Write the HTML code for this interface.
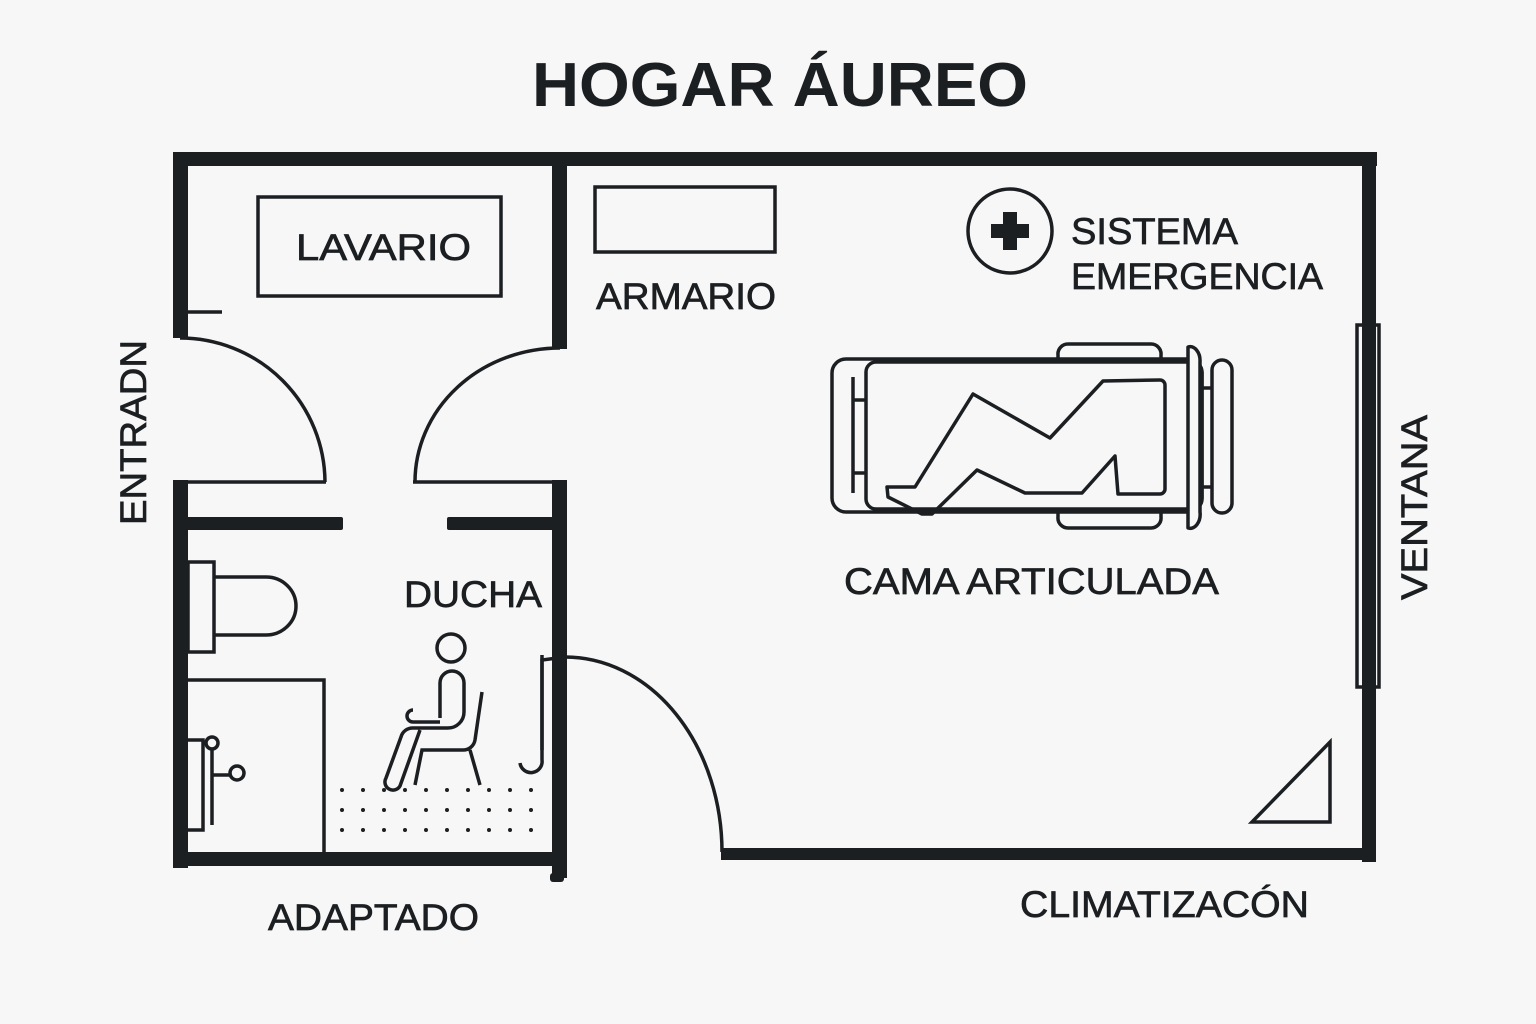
<!DOCTYPE html>
<html><head><meta charset="utf-8"><style>
html,body{margin:0;padding:0;background:#f7f7f7;}
svg{display:block;}
text{font-family:"Liberation Sans",sans-serif;fill:#1c1f22;}
</style></head><body>
<svg width="1536" height="1024" viewBox="0 0 1536 1024" xmlns="http://www.w3.org/2000/svg">
<rect width="1536" height="1024" fill="#f7f7f7"/>
<text x="532" y="106" font-size="62" font-weight="bold" textLength="496" lengthAdjust="spacingAndGlyphs">HOGAR ÁUREO</text>
<g fill="#1c1f22">
<rect x="173" y="152" width="1204" height="14"/>
<rect x="173" y="152" width="15" height="186"/>
<rect x="552" y="152" width="15" height="197"/>
<rect x="1362" y="152" width="14" height="710"/>
<rect x="721" y="848" width="655" height="12"/>
<rect x="173" y="480" width="15" height="388"/>
<rect x="552" y="480" width="15" height="398"/>
<rect x="173" y="852" width="394" height="14"/>
<rect x="550" y="873" width="14" height="9" rx="3"/>
<rect x="185" y="517" width="158" height="13" rx="2"/>
<rect x="447" y="517" width="107" height="13" rx="2"/>
</g>
<g fill="none" stroke="#1c1f22" stroke-width="3.5">
<line x1="186" y1="312" x2="222" y2="312"/>
<path d="M180,338 A145,145 0 0 1 325,482"/>
<path d="M560,348 A145,134 0 0 0 415,482"/>
<path d="M173,482 L326,482"/>
<path d="M413,482 L560,482"/>
<path d="M565,657 A157,195 0 0 1 722,852"/>
<path d="M542,750 L542,660 L565,657"/>
<rect x="258" y="197" width="243" height="99"/>
<rect x="595" y="187" width="180" height="65"/>
<circle cx="1010" cy="231" r="42"/>
<rect x="1357" y="325" width="22" height="362"/>
<path d="M1330,742 L1330,822 L1252,822 Z"/>
<rect x="188" y="562" width="26" height="90"/>
<path d="M214,577 L266,577 A30,29 0 0 1 266,635 L214,635"/>
<path d="M188,680 L324,680 L324,852"/>
<path d="M188,740 L203,740 L203,830 L188,830"/>
<path d="M212,750 L212,825 M212,775 L230,775"/>
<circle cx="212" cy="743" r="6"/>
<circle cx="237" cy="773" r="7"/>
<path d="M542,655 L542,760 A10,10 0 0 1 520,763"/>
<circle cx="451" cy="648" r="14"/>
<path d="M440,718 L440,683 A12,12 0 0 1 464,683 L464,712 A16,16 0 0 1 448,728 L413,728 A12,12 0 0 0 401,737 L386,778 A8,8 0 0 0 400,786 L420,730"/>
<path d="M413,710 A6,6 0 0 0 413,722 L440,722"/>
<path d="M482,692 L475,740 A12,12 0 0 1 463,750 L422,750 L415,785 M470,750 L480,785"/>
</g>
<path d="M1003,212 h14 v12 h12 v14 h-12 v12 h-14 v-12 h-12 v-14 h12 z" fill="#1c1f22"/>
<g fill="#1c1f22">
<circle cx="342" cy="790" r="2"/><circle cx="363" cy="790" r="2"/><circle cx="384" cy="790" r="2"/><circle cx="405" cy="790" r="2"/><circle cx="426" cy="790" r="2"/><circle cx="447" cy="790" r="2"/><circle cx="468" cy="790" r="2"/><circle cx="489" cy="790" r="2"/><circle cx="510" cy="790" r="2"/><circle cx="531" cy="790" r="2"/>
<circle cx="342" cy="810" r="2"/><circle cx="363" cy="810" r="2"/><circle cx="384" cy="810" r="2"/><circle cx="405" cy="810" r="2"/><circle cx="426" cy="810" r="2"/><circle cx="447" cy="810" r="2"/><circle cx="468" cy="810" r="2"/><circle cx="489" cy="810" r="2"/><circle cx="510" cy="810" r="2"/><circle cx="531" cy="810" r="2"/>
<circle cx="342" cy="830" r="2"/><circle cx="363" cy="830" r="2"/><circle cx="384" cy="830" r="2"/><circle cx="405" cy="830" r="2"/><circle cx="426" cy="830" r="2"/><circle cx="447" cy="830" r="2"/><circle cx="468" cy="830" r="2"/><circle cx="489" cy="830" r="2"/><circle cx="510" cy="830" r="2"/><circle cx="531" cy="830" r="2"/>
</g>
<g fill="none" stroke="#1c1f22" stroke-width="3.5" stroke-linejoin="round">
<rect x="832" y="359" width="370" height="153" rx="14"/>
<rect x="866" y="362" width="336" height="147" rx="10" fill="#f7f7f7"/>
<path d="M1058,359 L1058,355 A10,10 0 0 1 1068,344 L1151,344 A10,10 0 0 1 1161,355 L1161,359"/>
<path d="M1058,512 L1058,517 A10,10 0 0 0 1068,528 L1151,528 A10,10 0 0 0 1161,517 L1161,512"/>
<path d="M1188,347 A10,14 0 0 1 1200,362 L1200,512 A10,14 0 0 1 1188,528 Z" fill="#f7f7f7"/>
<rect x="1212" y="360" width="20" height="153" rx="10"/>
<path d="M1200,388 L1212,388 M1200,487 L1212,487"/>
<path d="M853,377 L853,493 M853,400 L866,400 M853,473 L866,473"/>
<path d="M973,394 L1050,438 L1103,381 L1160,380 A5,5 0 0 1 1165,385 L1165,489 A5,5 0 0 1 1160,494 L1118,494 L1115,456 L1082,493 L1025,493 L977,470 L932,514 L922,514 L888,497 L887,487 L915,487 Z"/>
</g>
<g font-size="37" stroke="#1c1f22" stroke-width="0.7">
<text x="296" y="260" textLength="175" lengthAdjust="spacingAndGlyphs">LAVARIO</text>
<text x="596" y="309" textLength="180" lengthAdjust="spacingAndGlyphs">ARMARIO</text>
<text x="1071" y="244" textLength="167" lengthAdjust="spacingAndGlyphs">SISTEMA</text>
<text x="1071" y="289" textLength="252" lengthAdjust="spacingAndGlyphs">EMERGENCIA</text>
<text x="404" y="607" textLength="138" lengthAdjust="spacingAndGlyphs">DUCHA</text>
<text x="844" y="594" textLength="375" lengthAdjust="spacingAndGlyphs">CAMA ARTICULADA</text>
<text x="268" y="930" textLength="211" lengthAdjust="spacingAndGlyphs">ADAPTADO</text>
<text x="1020" y="917" textLength="289" lengthAdjust="spacingAndGlyphs">CLIMATIZACÓN</text>
<text transform="translate(146,525) rotate(-90)" textLength="185" lengthAdjust="spacingAndGlyphs">ENTRADN</text>
<text transform="translate(1427,600) rotate(-90)" textLength="185" lengthAdjust="spacingAndGlyphs">VENTANA</text>
</g>
</svg>
</body></html>
